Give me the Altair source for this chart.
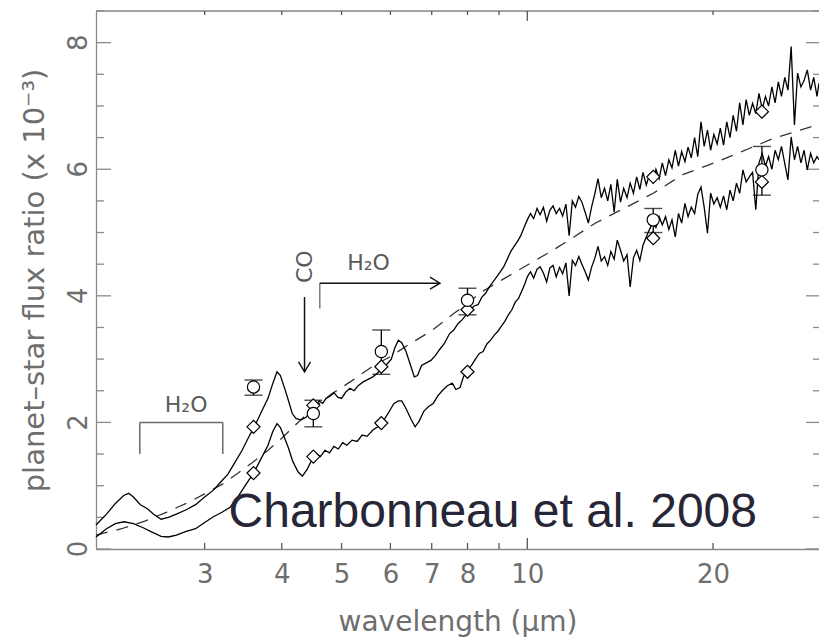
import altair as alt
import pandas as pd

W, H = 723, 538
X_DOMAIN = [2.0, 29.7]
Y_DOMAIN = [0, 8.5]

# ---- upper model spectrum (smooth part, 2-10 um) ----
upper_wl = [2.00, 2.08, 2.15, 2.22, 2.26, 2.30, 2.36, 2.42, 2.48, 2.55, 2.62, 2.70, 2.80, 2.90,
            3.00, 3.10, 3.18, 3.27, 3.35, 3.45, 3.55, 3.62, 3.70, 3.80, 3.87, 3.93, 3.98, 4.04,
            4.10, 4.16, 4.22, 4.30, 4.38, 4.46, 4.54, 4.60, 4.66, 4.72, 4.80, 4.86, 4.93, 5.00,
            5.08, 5.16, 5.24, 5.32, 5.42, 5.52, 5.62, 5.72, 5.82, 5.92, 6.02, 6.10, 6.18, 6.26,
            6.36, 6.46, 6.56, 6.64, 6.74, 6.86, 6.98, 7.10, 7.22, 7.34, 7.48, 7.60, 7.72, 7.84,
            7.96, 8.08, 8.20, 8.32, 8.44, 8.56, 8.68, 8.80, 8.92, 9.04, 9.16, 9.28, 9.40, 9.52,
            9.64, 9.76, 9.88]
upper_flux = [0.38, 0.55, 0.72, 0.85, 0.88, 0.82, 0.70, 0.64, 0.55, 0.47, 0.50, 0.55, 0.62, 0.70,
              0.82, 0.93, 1.05, 1.18, 1.35, 1.56, 1.80, 1.95, 2.15, 2.38, 2.62, 2.80, 2.74, 2.55,
              2.35, 2.14, 2.06, 2.04, 2.08, 2.18, 2.26, 2.34, 2.30, 2.38, 2.42, 2.47, 2.40, 2.38,
              2.48, 2.54, 2.50, 2.58, 2.64, 2.68, 2.72, 2.78, 2.86, 2.92, 3.00, 3.18, 3.30, 3.26,
              3.12, 2.92, 2.72, 2.74, 2.90, 2.94, 2.98, 3.06, 3.16, 3.25, 3.40, 3.46, 3.56, 3.62,
              3.70, 3.78, 3.84, 3.86, 3.98, 4.04, 4.14, 4.22, 4.30, 4.38, 4.46, 4.58, 4.70, 4.78,
              4.86, 4.95, 5.08]

# ---- lower model spectrum (smooth part, 2-10 um) ----
lower_wl = [2.00, 2.08, 2.15, 2.22, 2.30, 2.38, 2.46, 2.55, 2.62, 2.70, 2.80, 2.90, 3.00, 3.10,
            3.20, 3.30, 3.40, 3.50, 3.60, 3.70, 3.80, 3.87, 3.93, 3.98, 4.04, 4.10, 4.17, 4.25,
            4.32, 4.40, 4.48, 4.55, 4.62, 4.70, 4.78, 4.86, 4.94, 5.02, 5.10, 5.20, 5.30, 5.40,
            5.50, 5.62, 5.74, 5.86, 5.98, 6.08, 6.18, 6.26, 6.36, 6.48, 6.58, 6.68, 6.80, 6.92,
            7.04, 7.16, 7.28, 7.42, 7.56, 7.66, 7.78, 7.88, 8.00, 8.12, 8.24, 8.36, 8.48, 8.60,
            8.72, 8.84, 8.96, 9.08, 9.20, 9.32, 9.44, 9.56, 9.68, 9.80, 9.90]
lower_flux = [0.19, 0.32, 0.40, 0.43, 0.40, 0.34, 0.27, 0.20, 0.19, 0.22, 0.28, 0.32, 0.42, 0.51,
              0.58, 0.66, 0.83, 1.02, 1.20, 1.42, 1.64, 1.86, 1.98, 1.92, 1.76, 1.60, 1.38, 1.22,
              1.15, 1.26, 1.42, 1.50, 1.46, 1.56, 1.52, 1.62, 1.58, 1.68, 1.64, 1.72, 1.70, 1.80,
              1.78, 1.88, 1.94, 2.04, 2.18, 2.30, 2.34, 2.34, 2.22, 2.05, 1.93, 2.02, 2.18, 2.25,
              2.30, 2.42, 2.50, 2.58, 2.62, 2.52, 2.55, 2.72, 2.83, 2.90, 3.00, 3.09, 3.12, 3.24,
              3.30, 3.38, 3.44, 3.52, 3.60, 3.70, 3.78, 3.90, 3.96, 4.08, 4.18]

# ---- noisy part of both spectra (10-29.7 um) ----
noisy_wl = [10.00, 10.12, 10.24, 10.37, 10.49, 10.62, 10.75, 10.88, 11.01, 11.14,
            11.28, 11.41, 11.55, 11.69, 11.83, 11.97, 12.12, 12.26, 12.41, 12.56,
            12.71, 12.87, 13.02, 13.18, 13.34, 13.50, 13.66, 13.83, 13.99, 14.16,
            14.33, 14.51, 14.68, 14.86, 15.04, 15.22, 15.40, 15.59, 15.78, 15.97,
            16.16, 16.36, 16.55, 16.75, 16.96, 17.16, 17.37, 17.58, 17.79, 18.01,
            18.22, 18.44, 18.67, 18.89, 19.12, 19.35, 19.59, 19.82, 20.06, 20.31,
            20.55, 20.80, 21.05, 21.31, 21.56, 21.83, 22.09, 22.36, 22.63, 22.90,
            23.18, 23.46, 23.74, 24.03, 24.32, 24.61, 24.91, 25.21, 25.52, 25.82,
            26.14, 26.45, 26.77, 27.10, 27.42, 27.76, 28.09, 28.43, 28.78, 29.12,
            29.48, 29.70]
upper_noisy = [5.20, 5.30, 5.22, 5.38, 5.28, 5.40, 5.18, 5.35, 5.42, 5.30,
               5.38, 5.26, 5.45, 4.95, 5.50, 5.40, 5.57, 5.48, 5.32, 5.15,
               5.40, 5.62, 5.85, 5.55, 5.70, 5.50, 5.76, 5.32, 5.84, 5.48,
               5.70, 5.55, 5.78, 5.62, 5.88, 5.68, 5.95, 5.75, 5.92, 5.80,
               6.00, 5.85, 6.10, 5.90, 6.15, 6.02, 6.30, 6.05, 6.28, 6.12,
               6.35, 6.18, 6.50, 6.20, 6.75, 6.36, 6.62, 6.30, 6.55, 6.40,
               6.65, 6.38, 6.75, 6.50, 6.85, 6.60, 7.05, 6.70, 7.10, 6.85,
               7.04, 6.88, 7.20, 6.95, 7.15, 7.00, 7.30, 7.05, 7.38, 7.15,
               7.45, 7.25, 7.94, 6.70, 7.52, 7.30, 7.40, 7.57, 7.25, 7.45,
               7.15, 7.36]
lower_noisy = [4.30, 4.38, 4.28, 4.42, 4.46, 4.36, 4.22, 4.44, 4.48, 4.30,
               4.45, 4.35, 4.52, 4.00, 4.56, 4.48, 4.62, 4.50, 4.38, 4.25,
               4.45, 4.60, 4.78, 4.55, 4.62, 4.48, 4.70, 4.58, 4.88, 4.72,
               4.55, 4.65, 4.14, 4.60, 4.72, 4.56, 4.80, 4.93, 5.05, 5.15,
               5.08, 5.25, 5.12, 5.25, 5.05, 5.20, 4.93, 5.30, 5.15, 5.46,
               5.25, 5.40, 5.30, 5.60, 5.72, 5.40, 4.99, 5.62, 5.45, 5.55,
               5.40, 5.58, 5.36, 5.67, 5.50, 5.78, 5.62, 5.99, 5.80, 5.88,
               5.95, 5.36, 6.10, 6.25, 6.05, 6.20, 6.00, 6.30, 6.15, 6.36,
               6.09, 5.83, 6.51, 6.15, 6.36, 6.10, 6.30, 5.99, 6.25, 6.10,
               6.20, 6.15]

# ---- dashed (blackbody) curve ----
dashed_wl = [2.0, 2.2, 2.4, 2.6, 2.8, 3.0, 3.2, 3.4, 3.6, 3.8, 4.0, 4.25, 4.5, 4.8, 5.2, 5.6,
             6.0, 6.4, 7.0, 7.6, 8.0, 8.4, 9.2, 10.1, 11.0, 11.9, 12.9, 14.2, 16.0, 17.9, 19.6,
             21.9, 25.1, 28.8, 29.7]
dashed_flux = [0.22, 0.32, 0.44, 0.58, 0.72, 0.87, 1.02, 1.20, 1.38, 1.56, 1.75, 2.00, 2.22,
               2.44, 2.66, 2.88, 3.04, 3.22, 3.45, 3.72, 3.88, 4.05, 4.28, 4.51, 4.72, 4.93,
               5.15, 5.36, 5.62, 5.92, 6.06, 6.25, 6.49, 6.67, 6.72]

# ---- photometric bands ----
band_wl = [3.6, 4.5, 5.8, 8.0, 16.0, 24.0]
obs_flux = [2.56, 2.14, 3.12, 3.93, 5.20, 5.99]
obs_lo = [2.43, 1.93, 2.76, 3.70, 5.00, 5.59]
obs_hi = [2.67, 2.35, 3.46, 4.12, 5.38, 6.36]
model_upper_band = [1.93, 2.27, 2.88, 3.78, 5.88, 6.91]
model_lower_band = [1.20, 1.46, 1.99, 2.80, 4.91, 5.80]

# ---- axis ticks ----
y_major = [0, 2, 4, 6, 8]
y_major_text = ['0', '2', '4', '6', '8']
y_minor = [0.5, 1, 1.5, 2.5, 3, 3.5, 4.5, 5, 5.5, 6.5, 7, 7.5, 8.5]
x_labels = [3, 4, 5, 6, 7, 8, 10, 20]
x_minor = [3, 4, 5, 6, 7, 8, 9, 20]
x_major = [10]

# ---- annotations (data units) ----
seg_x = [2.355, 2.355, 3.21, 4.355, 4.61, 4.61]
seg_x2 = [3.21, 2.355, 3.21, 4.355, 4.61, 7.22]
seg_y = [2.0, 2.0, 2.0, 3.98, 3.8, 4.2]
seg_y2 = [2.0, 1.5, 1.5, 2.8, 4.2, 4.2]
seg_col = ['#6a6a6a', '#6a6a6a', '#6a6a6a', '#111111', '#7a7a7a', '#111111']
label_text = ['H₂O', 'H₂O']
label_wl = [2.80, 5.53]
label_flux = [2.27, 4.52]
co_wl, co_flux = [4.36], [4.46]
arrow_down = ([4.355], [2.8])
arrow_right = ([7.22], [4.2])
credit_text = 'Charbonneau et al. 2008'
credit_wl, credit_flux = [3.28], [0.35]

FONT = 'DejaVu Sans'
GRAY = '#6e6e6e'
AX = '#8a8a8a'

xscale = alt.Scale(type='log', domain=X_DOMAIN, nice=False)
yscale = alt.Scale(domain=Y_DOMAIN, nice=False, zero=False)
xaxis = alt.Axis(values=x_labels, format='d', ticks=False, grid=False, domainColor=AX,
                 domainWidth=1.3, labelFont=FONT, labelFontSize=26, labelColor=GRAY,
                 labelPadding=12, labelOverlap=False, labelFlush=False,
                 title='wavelength (μm)', titleFont=FONT, titleFontSize=28,
                 titleFontWeight='normal', titleColor=GRAY, titleY=81,
                 titleBaseline='alphabetic')
yaxis = alt.Axis(values=y_major, ticks=False, grid=False, domainColor=AX, domainWidth=1.3,
                 labels=False,
                 title='planet–star flux ratio (x 10⁻³)', titleFont=FONT, titleFontSize=29,
                 titleFontWeight='normal', titleColor=GRAY, titleAngle=270, titleX=-62,
                 titleY=H / 2, titleAlign='center', titleBaseline='middle')


def X(f='wl'):
    return alt.X(f'{f}:Q', scale=xscale, axis=xaxis)


def Y(f='flux'):
    return alt.Y(f'{f}:Q', scale=yscale, axis=yaxis)


spec = pd.DataFrame({
    'wl': upper_wl + noisy_wl + lower_wl + noisy_wl,
    'flux': upper_flux + upper_noisy + lower_flux + lower_noisy,
    'series': ['upper'] * (len(upper_wl) + len(noisy_wl)) + ['lower'] * (len(lower_wl) + len(noisy_wl)),
})
spec['order'] = list(range(len(upper_wl) + len(noisy_wl))) + list(range(len(lower_wl) + len(noisy_wl)))
dashed = pd.DataFrame({'wl': dashed_wl, 'flux': dashed_flux})
obs = pd.DataFrame({'wl': band_wl, 'flux': obs_flux, 'lo': obs_lo, 'hi': obs_hi})
caps = pd.DataFrame({'wl': band_wl + band_wl, 'flux': obs_lo + obs_hi})
diam = pd.DataFrame({'wl': band_wl + band_wl, 'flux': model_upper_band + model_lower_band})
segs = pd.DataFrame({'wl': seg_x, 'wl2': seg_x2, 'flux': seg_y, 'flux2': seg_y2, 'c': seg_col})
labels = pd.DataFrame({'wl': label_wl, 'flux': label_flux, 't': label_text})
one = pd.DataFrame({'k': [0]})

layers = []
# top frame line
layers.append(alt.Chart(one).mark_rule(color=AX, strokeWidth=1.3).encode(
    x=alt.value(0), x2=alt.value(W), y=alt.value(0)))
# y ticks (left and right, inward)
ymaj = pd.DataFrame({'flux': y_major, 't': y_major_text})
ymin = pd.DataFrame({'flux': y_minor})
layers.append(alt.Chart(ymaj).mark_rule(color=AX, strokeWidth=1.3).encode(
    y=Y(), x=alt.value(0), x2=alt.value(15)))
layers.append(alt.Chart(ymin).mark_rule(color=AX, strokeWidth=1.3).encode(
    y=Y(), x=alt.value(0), x2=alt.value(8)))
layers.append(alt.Chart(ymaj).mark_rule(color=AX, strokeWidth=1.3).encode(
    y=Y(), x=alt.value(W - 13), x2=alt.value(W)))
layers.append(alt.Chart(ymin).mark_rule(color=AX, strokeWidth=1.3).encode(
    y=Y(), x=alt.value(W - 6), x2=alt.value(W)))
# rotated y tick labels
layers.append(alt.Chart(ymaj).mark_text(font=FONT, fontSize=26, color=GRAY, angle=270,
                                        align='center', baseline='alphabetic').encode(
    y=Y(), x=alt.value(-9), text='t:N'))
# x ticks (top and bottom, inward)
xmin = pd.DataFrame({'wl': x_minor})
xmaj = pd.DataFrame({'wl': x_major})
layers.append(alt.Chart(xmin).mark_rule(color='#555', strokeWidth=1.3).encode(
    x=X(), y=alt.value(0), y2=alt.value(4)))
layers.append(alt.Chart(xmaj).mark_rule(color='#555', strokeWidth=1.3).encode(
    x=X(), y=alt.value(0), y2=alt.value(10)))
layers.append(alt.Chart(xmin).mark_rule(color='#555', strokeWidth=1.3).encode(
    x=X(), y=alt.value(H), y2=alt.value(H - 6)))
layers.append(alt.Chart(xmaj).mark_rule(color='#555', strokeWidth=1.3).encode(
    x=X(), y=alt.value(H), y2=alt.value(H - 11)))
# annotation segments
layers.append(alt.Chart(segs).mark_rule(strokeWidth=1.5).encode(
    x=X(), x2='wl2:Q', y=Y(), y2='flux2:Q', color=alt.Color('c:N', scale=None)))
# dashed curve
layers.append(alt.Chart(dashed).mark_line(color='#333', strokeWidth=1.3, strokeDash=[12, 9]).encode(
    x=X(), y=Y()))
# spectra
layers.append(alt.Chart(spec).mark_line(color='black', strokeWidth=1.3).encode(
    x=X(), y=Y(), detail='series:N', order='order:Q'))
# error bars
layers.append(alt.Chart(obs).mark_rule(color='black', strokeWidth=1.3).encode(
    x=X(), y=alt.Y('lo:Q', scale=yscale, axis=yaxis), y2='hi:Q'))
layers.append(alt.Chart(caps).mark_tick(orient='horizontal', size=18, thickness=1.4, color='black').encode(
    x=X(), y=Y()))
# model band points (diamonds)
layers.append(alt.Chart(diam).mark_point(shape='diamond', size=170, filled=True, fill='white',
                                         stroke='black', strokeWidth=1.2, opacity=1).encode(x=X(), y=Y()))
# observed points (circles)
layers.append(alt.Chart(obs).mark_point(shape='circle', size=150, filled=True, fill='white',
                                        stroke='black', strokeWidth=1.2, opacity=1).encode(x=X(), y=Y()))
# arrowheads
layers.append(alt.Chart(pd.DataFrame({'wl': arrow_down[0], 'flux': arrow_down[1]})).mark_point(
    shape='M -0.6 -1 L 0 0 L 0.6 -1', size=400, filled=False, stroke='#111', strokeWidth=1.4,
    opacity=1).encode(x=X(), y=Y()))
layers.append(alt.Chart(pd.DataFrame({'wl': arrow_right[0], 'flux': arrow_right[1]})).mark_point(
    shape='M -1 -0.6 L 0 0 L -1 0.6', size=400, filled=False, stroke='#111', strokeWidth=1.4,
    opacity=1).encode(x=X(), y=Y()))
# texts
layers.append(alt.Chart(labels).mark_text(font=FONT, fontSize=22, color='#5a5a5a', align='center',
                                          baseline='middle').encode(x=X(), y=Y(), text='t:N'))
layers.append(alt.Chart(pd.DataFrame({'wl': co_wl, 'flux': co_flux, 't': ['CO']})).mark_text(
    font=FONT, fontSize=22, color='#5a5a5a', align='center', baseline='middle', angle=270).encode(
    x=X(), y=Y(), text='t:N'))
layers.append(alt.Chart(pd.DataFrame({'wl': credit_wl, 'flux': credit_flux, 't': [credit_text]})).mark_text(
    font='Liberation Sans', fontSize=48, color='#262636', align='left', baseline='alphabetic').encode(
    x=X(), y=Y(), text='t:N'))

chart = alt.layer(*layers).properties(
    width=W, height=H,
    padding={'left': 96, 'top': 11, 'right': 0, 'bottom': 93},
    autosize=alt.AutoSizeParams(type='none'),
).configure_view(stroke=None).configure(background='white')

chart.save('out.html', embed_options={'renderer': 'svg', 'actions': False})
